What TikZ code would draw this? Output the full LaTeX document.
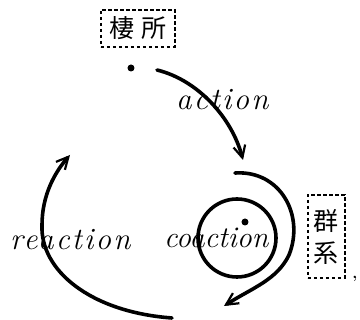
\documentclass[tikz,border=0pt]{standalone}
\usepackage{fontspec}
\newfontfamily\jp{Noto Sans CJK JP}
\newfontfamily\spit{Latin Modern Roman}[LetterSpace=7]
\usetikzlibrary{arrows.meta}
\begin{document}
\begin{tikzpicture}[x=1pt,y=-1pt,
  stroke/.style={line width=3.6pt, line cap=round},
  tip/.style={-{Straight Barb[length=12pt,width=12pt,line width=2.2pt]}},
  dbox/.style={draw, dash pattern=on 3.5pt off 2.5pt, line width=1.2pt, inner sep=0pt},
  lbl/.style={font=\spit\itshape\fontsize{31}{33}\selectfont, inner sep=0pt, anchor=base west},
  jtxt/.style={font=\jp\fontsize{25}{30}\selectfont},
  dot/.style={circle, fill, inner sep=0pt, minimum size=7pt}]
\useasboundingbox (0,0) rectangle (360,320);
% boxes
\node[dbox, jtxt, minimum width=74pt, minimum height=37pt] (habitat) at (138,28.5) {棲\hspace{0.3em}所};
\node[dbox, jtxt, minimum width=37pt, minimum height=83pt, align=center] (community) at (326.5,236.5) {群\\[2pt]系};
\node[inner sep=0pt, font=\bfseries\fontsize{16}{16}\selectfont] (comma) at (355,279) {,};
% dots
\node[dot] (d1) at (131,68) {};
\node[dot] (d2) at (245,222) {};
% labels
\node[lbl] (act) at (176,110) {action};
\node[lbl] (react) at (10,250) {reaction};
\node[lbl, font=\itshape\fontsize{30}{32}\selectfont] (coact) at (164,248) {coaction};
% action arc
\coordinate (a0) at (157,70);
\coordinate (a1) at (243,160);
\draw[stroke, tip] (a0) .. controls (198,80) and (232,118) .. (a1);
% inner loop
\node[circle, draw, line width=3.6pt, minimum size=78pt, inner sep=0pt] (loop) at (237,238) {};
% outer right arc
\coordinate (r0) at (235,173);
\coordinate (r1) at (289,255);
\coordinate (r2) at (224,306);
\draw[stroke, tip] (r0) .. controls (280,170) and (305,215) .. (r1) .. controls (277,280) and (252,288) .. (r2);
% left arc
\coordinate (l0) at (172,318);
\coordinate (l1) at (42,225);
\coordinate (l2) at (70,155);
\draw[stroke, tip] (l0) .. controls (90,312) and (40,270) .. (l1) .. controls (42,195) and (55,172) .. (l2);
\end{tikzpicture}
\end{document}
